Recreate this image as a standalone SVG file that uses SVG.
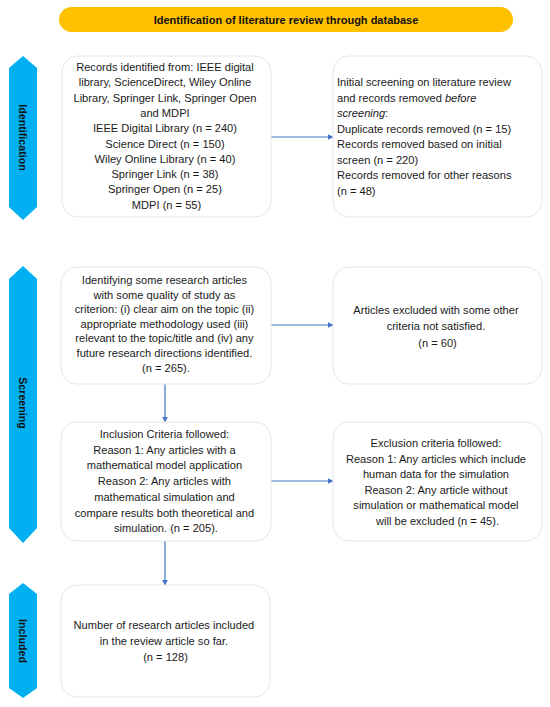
<svg xmlns="http://www.w3.org/2000/svg" width="550" height="707" viewBox="0 0 550 707">
<style>
.box{fill:#fff;stroke:#e6e6e6;stroke-width:1}
.t{font-family:"Liberation Sans",Arial,sans-serif;font-size:11.1px;fill:#1a1a1a}
.c{text-anchor:middle}
.side{fill:#00B0F0}
.sl{font-family:"Liberation Sans",Arial,sans-serif;font-size:10.7px;font-weight:bold;fill:#111;text-anchor:middle}
.conn{stroke:#4472C4;stroke-width:1.2;fill:none}
</style>
<defs>
<marker id="ah" viewBox="0 0 10 10" refX="9" refY="5" markerWidth="6" markerHeight="6" orient="auto" markerUnits="userSpaceOnUse">
<path d="M0,0 L10,5 L0,10 z" fill="#4472C4"/>
</marker>
</defs>
<rect width="550" height="707" fill="#fff"/>

<g id="banner">
<rect x="59" y="7" width="454" height="25" rx="12.5" fill="#FFC000"/>
<text x="286" y="23.8" class="sl" style="font-size:11px">Identification of literature review through database</text>
</g>

<g id="stage-identification">
<polygon class="side" points="23,56 37,68 37,207 23,220 9,207 9,68"/>
<text class="sl" transform="translate(23,137.5) rotate(90)" y="4">Identification</text>
</g>
<g id="stage-screening">
<polygon class="side" points="23,266 37,279 37,528 23,543 9,528 9,279"/>
<text class="sl" transform="translate(23,403) rotate(90)" y="4">Screening</text>
</g>
<g id="stage-included">
<polygon class="side" points="23,583 37,594 37,688 23,698 9,688 9,594"/>
<text class="sl" transform="translate(23,641) rotate(90)" y="4">Included</text>
</g>

<g id="connectors">
<line class="conn" x1="271" y1="137" x2="333" y2="137" marker-end="url(#ah)"/>
<line class="conn" x1="271" y1="325" x2="333" y2="325" marker-end="url(#ah)"/>
<line class="conn" x1="165" y1="384" x2="165" y2="422" marker-end="url(#ah)"/>
<line class="conn" x1="271" y1="481" x2="333" y2="481" marker-end="url(#ah)"/>
<line class="conn" x1="165" y1="541" x2="165" y2="585" marker-end="url(#ah)"/>
</g>

<g id="records-identified">
<rect class="box" x="62" y="56" width="209" height="161" rx="16"/>
<text class="t c" x="166.5">
<tspan x="166.5" y="71">Records identified from: IEEE digital</tspan>
<tspan x="166.5" y="86.3">library, ScienceDirect, Wiley Online</tspan>
<tspan x="166.5" y="101.6">Library, Springer Link, Springer Open</tspan>
<tspan x="166.5" y="116.9">and MDPI</tspan>
<tspan x="166.5" y="132.2">IEEE Digital Library (n = 240)</tspan>
<tspan x="166.5" y="147.5">Science Direct (n = 150)</tspan>
<tspan x="166.5" y="162.8">Wiley Online Library (n = 40)</tspan>
<tspan x="166.5" y="178.1">Springer Link (n = 38)</tspan>
<tspan x="166.5" y="193.4">Springer Open (n = 25)</tspan>
<tspan x="166.5" y="208.7">MDPI (n = 55)</tspan>
</text>
</g>

<g id="initial-screening">
<rect class="box" x="333" y="56" width="209" height="161" rx="16"/>
<text class="t" x="337">
<tspan x="337" y="86">Initial screening on literature review</tspan>
<tspan x="337" y="101.5">and records removed <tspan font-style="italic">before</tspan></tspan>
<tspan x="337" y="117" font-style="italic">screening</tspan><tspan>:</tspan>
<tspan x="337" y="132.5">Duplicate records removed (n = 15)</tspan>
<tspan x="337" y="148">Records removed based on initial</tspan>
<tspan x="337" y="163.5">screen (n = 220)</tspan>
<tspan x="337" y="179">Records removed for other reasons</tspan>
<tspan x="337" y="194.5">(n = 48)</tspan>
</text>
</g>

<g id="quality-criteria">
<rect class="box" x="61" y="267" width="210" height="117" rx="16"/>
<text class="t c">
<tspan x="166" y="284">Identifying some research articles</tspan>
<tspan x="166" y="298.6">with some quality of study as</tspan>
<tspan x="166" y="313.2">criterion: (i) clear aim on the topic (ii)</tspan>
<tspan x="166" y="327.8">appropriate methodology used (iii)</tspan>
<tspan x="166" y="342.4">relevant to the topic/title and (iv) any</tspan>
<tspan x="166" y="357">future research directions identified.</tspan>
<tspan x="166" y="371.6">(n = 265).</tspan>
</text>
</g>

<g id="excluded-other">
<rect class="box" x="333" y="267" width="209" height="117" rx="16"/>
<text class="t c">
<tspan x="437.5" y="314">Articles excluded with some other</tspan>
<tspan x="437.5" y="330">criteria not satisfied.</tspan>
<tspan x="437.5" y="346.5">(n = 60)</tspan>
</text>
</g>

<g id="inclusion-criteria">
<rect class="box" x="61" y="422" width="210" height="119" rx="16"/>
<text class="t c">
<tspan x="166" y="438">Inclusion Criteria followed:</tspan>
<tspan x="166" y="453.7">Reason 1: Any articles with a</tspan>
<tspan x="166" y="469.4">mathematical model application</tspan>
<tspan x="166" y="485.1">Reason 2: Any articles with</tspan>
<tspan x="166" y="500.8">mathematical simulation and</tspan>
<tspan x="166" y="516.5">compare results both theoretical and</tspan>
<tspan x="166" y="532.2">simulation. (n = 205).</tspan>
</text>
</g>

<g id="exclusion-criteria">
<rect class="box" x="333" y="422" width="209" height="119" rx="16"/>
<text class="t c">
<tspan x="437.5" y="447">Exclusion criteria followed:</tspan>
<tspan x="437.5" y="462.6">Reason 1: Any articles which include</tspan>
<tspan x="437.5" y="478.2">human data for the simulation</tspan>
<tspan x="437.5" y="493.8">Reason 2: Any article without</tspan>
<tspan x="437.5" y="509.4">simulation or mathematical model</tspan>
<tspan x="437.5" y="525">will be excluded (n = 45).</tspan>
</text>
</g>

<g id="included-final">
<rect class="box" x="61" y="585" width="209" height="112" rx="16"/>
<text class="t c">
<tspan x="165.5" y="629">Number of research articles included</tspan>
<tspan x="165.5" y="645">in the review article so far.</tspan>
<tspan x="165.5" y="661">(n = 128)</tspan>
</text>
</g>
</svg>
